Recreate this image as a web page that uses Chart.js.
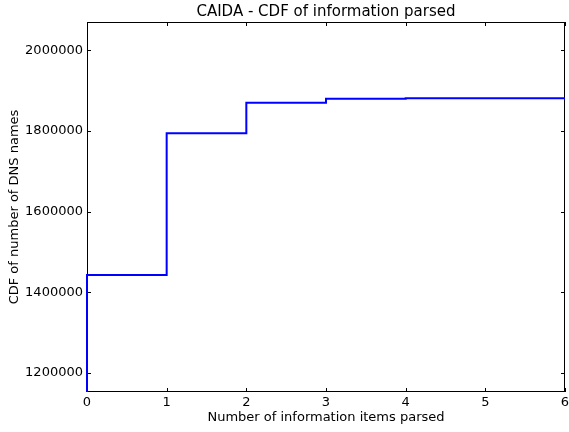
<!DOCTYPE html>
<html>
<head>
<meta charset="utf-8">
<script src="https://cdn.jsdelivr.net/npm/chart.js@4/dist/chart.umd.min.js"></script>
<style>
  html, body { margin: 0; padding: 0; background: #fff; }
  #wrap { width: 569px; height: 432px; }
</style>
</head>
<body>
<div id="wrap"><canvas id="cdfChart"></canvas></div>
<script>
// items parsed (x) and cumulative number of DNS names (y)
var itemsParsed = [0, 0, 1, 2, 3, 4, 6];
var cdfNames = [1153000, 1443000, 1794000, 1870000, 1880000, 1881000, 1881000];
var xTicks = [0, 1, 2, 3, 4, 5, 6];
var yTicks = [1200000, 1400000, 1600000, 1800000, 2000000];

var points = itemsParsed.map(function (x, i) { return { x: x, y: cdfNames[i] }; });

// matplotlib-like frame with inward ticks on every side
var framePlugin = {
    id: 'frame',
    beforeDatasetsDraw: function (chart) {
        var ctx = chart.ctx, a = chart.chartArea;
        var xs = chart.scales.x, ys = chart.scales.y;
        ctx.save();
        ctx.strokeStyle = '#000';
        ctx.lineWidth = 1;
        ctx.strokeRect(a.left + 0.5, a.top + 0.5, a.right - a.left - 1, a.bottom - a.top - 1);
        ctx.beginPath();
        xTicks.forEach(function (v) {
            var px = Math.round(xs.getPixelForValue(v)) + 0.5;
            ctx.moveTo(px, a.bottom); ctx.lineTo(px, a.bottom - 4);
            ctx.moveTo(px, a.top); ctx.lineTo(px, a.top + 4);
        });
        yTicks.forEach(function (v) {
            var py = Math.round(ys.getPixelForValue(v)) + 0.5;
            ctx.moveTo(a.left, py); ctx.lineTo(a.left + 4, py);
            ctx.moveTo(a.right, py); ctx.lineTo(a.right - 4, py);
        });
        ctx.stroke();
        ctx.restore();
    }
};

var ctx = document.getElementById("cdfChart");

const cdfChart = new Chart(ctx, {
    type: "line",
    data: {
        datasets: [{
            label: 'CDF',
            data: points,
            borderColor: '#0000ff',
            borderWidth: 2,
            pointRadius: 0,
            stepped: 'before',
            fill: false,
            clip: 2
        }]
    },
    options: {
        responsive: true,
        maintainAspectRatio: false,
        animation: false,
        layout: { padding: { top: 0, right: 4, bottom: 0, left: 0 } },
        plugins: {
            legend: { display: false },
            tooltip: { enabled: false },
            title: {
                display: true,
                fullSize: false,
                text: 'CAIDA - CDF of information parsed',
                color: '#000',
                font: { family: 'DejaVu Sans', size: 15, weight: 'normal' },
                padding: { top: 3, bottom: 1 }
            }
        },
        scales: {
            x: {
                type: 'linear',
                min: 0,
                max: 6,
                afterFit: function (s) { s.height = 40; s.paddingLeft = 0; s.paddingRight = 0; },
                afterBuildTicks: function (s) { s.ticks = xTicks.map(function (v) { return { value: v }; }); },
                grid: { display: false, drawTicks: false },
                border: { display: false },
                ticks: {
                    color: '#000',
                    padding: 3,
                    maxRotation: 0,
                    font: { family: 'DejaVu Sans', size: 13 }
                },
                title: {
                    display: true,
                    text: 'Number of information items parsed',
                    color: '#000',
                    font: { family: 'DejaVu Sans', size: 13 },
                    padding: { top: 0, bottom: 7 }
                }
            },
            y: {
                type: 'linear',
                min: 1153000,
                max: 2070000,
                afterFit: function (s) { s.width = 87; },
                afterBuildTicks: function (s) { s.ticks = yTicks.map(function (v) { return { value: v }; }); },
                grid: { display: false, drawTicks: false },
                border: { display: false },
                ticks: {
                    color: '#000',
                    padding: 4,
                    font: { family: 'DejaVu Sans', size: 13 },
                    callback: function (v) { return String(v); }
                },
                title: {
                    display: true,
                    text: 'CDF of number of DNS names',
                    color: '#000',
                    font: { family: 'DejaVu Sans', size: 13 },
                    padding: { top: 7, bottom: 0 }
                }
            }
        }
    },
    plugins: [framePlugin]
});
</script>
</body>
</html>
